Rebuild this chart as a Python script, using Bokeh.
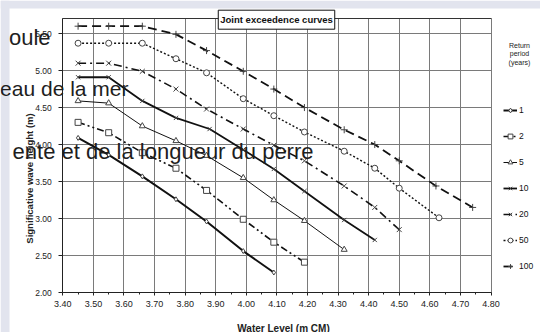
from math import pi
from bokeh.plotting import figure
from bokeh.models import Label, Legend, LegendItem, FixedTicker, NumeralTickFormatter, Grid, BoxAnnotation
from bokeh.embed import file_html
from bokeh.resources import INLINE

# ---------------- data ----------------
periods = ["1", "2", "5", "10", "20", "50", "100"]

x_1 = [3.45, 3.55, 3.66, 3.77, 3.87, 3.99, 4.09]
y_1 = [4.09, 3.86, 3.57, 3.26, 2.96, 2.56, 2.27]

x_2 = [3.45, 3.55, 3.66, 3.77, 3.87, 3.99, 4.09, 4.19]
y_2 = [4.30, 4.16, 3.89, 3.68, 3.38, 2.99, 2.68, 2.41]

x_5 = [3.45, 3.55, 3.66, 3.77, 3.87, 3.99, 4.09, 4.19, 4.32]
y_5 = [4.59, 4.56, 4.25, 4.05, 3.85, 3.55, 3.25, 2.97, 2.58]

x_10 = [3.45, 3.55, 3.66, 3.77, 3.88, 3.99, 4.09, 4.19, 4.32, 4.42]
y_10 = [4.91, 4.91, 4.59, 4.36, 4.21, 3.93, 3.67, 3.37, 2.98, 2.71]

x_20 = [3.45, 3.55, 3.66, 3.77, 3.87, 3.99, 4.09, 4.19, 4.32, 4.42, 4.50]
y_20 = [5.10, 5.10, 4.99, 4.75, 4.48, 4.21, 3.99, 3.78, 3.44, 3.15, 2.85]

x_50 = [3.45, 3.55, 3.66, 3.77, 3.87, 3.99, 4.09, 4.19, 4.32, 4.42, 4.50, 4.63]
y_50 = [5.37, 5.37, 5.37, 5.16, 4.97, 4.62, 4.39, 4.17, 3.91, 3.68, 3.41, 3.01]

x_100 = [3.45, 3.55, 3.66, 3.77, 3.87, 3.99, 4.09, 4.19, 4.32, 4.42, 4.50, 4.62, 4.74]
y_100 = [5.60, 5.60, 5.60, 5.49, 5.27, 4.99, 4.75, 4.50, 4.20, 4.00, 3.78, 3.44, 3.15]

x_ticks = [3.40, 3.50, 3.60, 3.70, 3.80, 3.90, 4.00, 4.10, 4.20, 4.30, 4.40, 4.50, 4.60, 4.70, 4.80]
x_minor = [3.45, 3.55, 3.65, 3.75, 3.85, 3.95, 4.05, 4.15, 4.25, 4.35, 4.45, 4.55, 4.65, 4.75]
y_ticks = [2.00, 2.50, 3.00, 3.50, 4.00, 4.50, 5.00, 5.50]
x_min, x_max = 3.40, 4.80
y_min, y_max = 2.00, 5.70

title_text = "Joint exceedence curves"
x_title = "Water Level (m CM)"
y_title = "Significative wave height (m)"
legend_title = ["Return", "period", "(years)"]
overlay_texts = ["oule", "eau de la mer", "ente et de la longueur du perre"]

series_x = [x_1, x_2, x_5, x_10, x_20, x_50, x_100]
series_y = [y_1, y_2, y_5, y_10, y_20, y_50, y_100]

# ---------------- layout (pixels inside the canvas) ----------------
W, H = 540, 332
PLOT_L, PLOT_R, PLOT_T, PLOT_B = 62.3, 490.5, 18.3, 292.0
sx = (PLOT_R - PLOT_L) / (x_max - x_min)
sy = (PLOT_B - PLOT_T) / (y_max - y_min)
x0 = x_min - PLOT_L / sx
x1 = x_max + (W - PLOT_R) / sx
y1 = y_max + PLOT_T / sy
y0 = y_min - (H - PLOT_B) / sy


def dx(px):
    return x0 + px / sx


def dy(py):
    return y1 - py / sy


styles = [
    dict(lw=2.0, dash="solid", marker="diamond", size=5),
    dict(lw=1.6, dash="7 3 2 3 2 3", marker="square", size=6),
    dict(lw=1.0, dash="solid", marker="triangle", size=6),
    dict(lw=1.8, dash="solid", marker="x", size=6),
    dict(lw=1.6, dash="8 4 2 4", marker="x", size=7),
    dict(lw=1.4, dash="2 2", marker="circle", size=6),
    dict(lw=1.8, dash="9 5", marker="cross", size=7),
]

FONT = "Liberation Sans"
GRID = "#7a7a7a"

p = figure(width=W, height=H, x_range=(x0, x1), y_range=(y0, y1), title=None,
           output_backend="svg", toolbar_location=None,
           min_border=0, min_border_left=0, min_border_right=0, min_border_top=0, min_border_bottom=0)

p.background_fill_color = "white"
p.border_fill_color = "white"
p.outline_line_color = None

# slide background strips (left and top edges)
p.add_layout(BoxAnnotation(right=dx(9), fill_color="#e2e4ee", fill_alpha=1, line_color=None, level="underlay"))
p.add_layout(BoxAnnotation(bottom=dy(8), fill_color="#e2e4ee", fill_alpha=1, line_color=None, level="underlay"))

# axes drawn at the plot-area edges
p.xaxis.fixed_location = y_min
p.yaxis.fixed_location = x_min
p.xaxis.bounds = (x_min, x_max)
p.yaxis.bounds = (y_min, y_max)
p.xaxis.ticker = FixedTicker(ticks=x_ticks, minor_ticks=x_minor)
p.yaxis.ticker = FixedTicker(ticks=y_ticks)
p.xaxis.formatter = NumeralTickFormatter(format="0.00")
p.yaxis.formatter = NumeralTickFormatter(format="0.00")
for ax in (p.xaxis, p.yaxis):
    ax.axis_line_color = "#222222"
    ax.major_tick_line_color = "#222222"
    ax.minor_tick_line_color = "#222222"
    ax.major_label_text_font = FONT
    ax.major_label_text_color = "#222222"
p.xaxis.major_label_text_font_size = "9px"
p.yaxis.major_label_text_font_size = "8.5px"
p.xaxis.major_tick_out = 3
p.xaxis.major_tick_in = 0
p.xaxis.minor_tick_out = 2
p.xaxis.minor_tick_in = 0
p.xaxis.major_label_standoff = 5
p.yaxis.major_tick_out = 4
p.yaxis.major_tick_in = 0
p.yaxis.minor_tick_line_color = None
p.yaxis.major_label_standoff = 7

p.xgrid.grid_line_color = GRID
p.ygrid.grid_line_color = GRID
p.xgrid.cross_bounds = (y_min, y_max)
p.ygrid.cross_bounds = (x_min, x_max)
top_border = Grid(dimension=1, ticker=FixedTicker(ticks=[y_max]), cross_bounds=(x_min, x_max),
                  grid_line_color="#333333")
p.add_layout(top_border)

items = []
for name, xs, ys, st in zip(periods, series_x, series_y, styles):
    r1 = p.line(xs, ys, line_color="#111111", line_width=st["lw"], line_dash=st["dash"])
    r2 = p.scatter(xs, ys, marker=st["marker"], size=st["size"], line_color="#444444",
                   fill_color="white", line_width=1)
    items.append(LegendItem(label=name, renderers=[r1, r2]))

legend = Legend(items=items, location=(503, H - 272), orientation="vertical",
                glyph_width=14, glyph_height=12, label_height=12, spacing=14,
                label_standoff=2, padding=0, margin=0,
                label_text_font=FONT, label_text_font_size="8.5px", label_text_color="#111111",
                background_fill_alpha=0, border_line_color=None)
p.add_layout(legend, "center")

# legend title (three lines)
for i, t in enumerate(legend_title):
    p.add_layout(Label(x=dx(519), y=dy(45 + i * 8.4), text=t, text_align="center", text_baseline="middle",
                       text_font=FONT, text_font_size="7px", text_color="#222222"))

# chart title in a box
p.add_layout(Label(x=dx(276), y=dy(19.2), text=title_text, text_align="center", text_baseline="middle",
                   text_font=FONT, text_font_size="9.5px", text_font_style="bold", text_color="#111111",
                   background_fill_color="white", border_line_color="#111111", border_line_width=1,
                   padding=(2, 4)))

# axis titles
p.add_layout(Label(x=dx(28.5), y=dy(178), text=y_title, angle=pi / 2, text_align="center",
                   text_baseline="middle", text_font=FONT, text_font_size="9.5px", text_font_style="bold",
                   text_color="#222222"))
p.add_layout(Label(x=dx(283), y=dy(327.5), text=x_title, text_align="center", text_baseline="middle",
                   text_font=FONT, text_font_size="10px", text_font_style="bold", text_color="#222222"))

# overlaid slide text fragments
p.add_layout(Label(x=dx(50), y=dy(36.7), text=overlay_texts[0], text_align="right", text_baseline="alphabetic",
                   text_font=FONT, text_font_size="22px", text_color="#1e1e1e"))
p.add_layout(Label(x=dx(128), y=dy(88), text=overlay_texts[1], text_align="right", text_baseline="alphabetic",
                   text_font=FONT, text_font_size="21px", text_color="#1e1e1e"))
p.add_layout(Label(x=dx(313), y=dy(151), text=overlay_texts[2], text_align="right", text_baseline="alphabetic",
                   text_font=FONT, text_font_size="22px", text_color="#1e1e1e"))

open("out.html", "w").write(file_html(p, INLINE))
